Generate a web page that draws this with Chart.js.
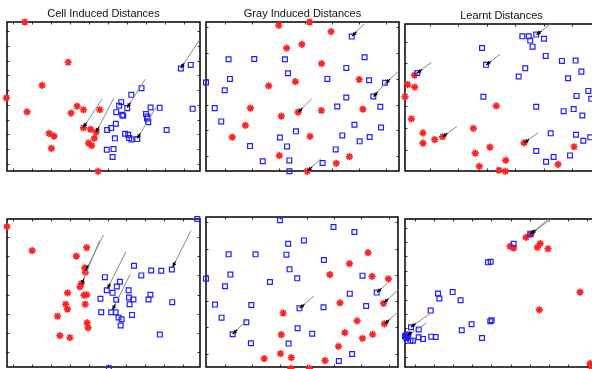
<!DOCTYPE html>
<html>
<head>
<meta charset="utf-8">
<script src="https://cdn.jsdelivr.net/npm/chart.js@4/dist/chart.umd.min.js"></script>
<style>
html,body{margin:0;padding:0;background:#fff;overflow:hidden;width:592px;height:369px;position:relative;}
.ttl{position:absolute;font:11px "Liberation Sans",Arial,Helvetica,sans-serif;color:#111;text-align:center;line-height:13px;white-space:nowrap;}
</style>
</head>
<body>
<script>
// panel titles (top row only)
const titles = ['Cell Induced Distances', 'Gray Induced Distances', 'Learnt Distances'];

// points as [x, y] in axis units (0..10 across each box)
const p1Red = [[0.92,10.0],[3.17,7.30],[1.82,5.74],[-0.03,4.91],[1.04,3.97],[3.63,4.35],[3.96,4.11],[4.81,4.11],[3.32,3.88],[2.18,2.52],[2.44,2.34],[2.30,1.52],[3.96,2.90],[4.33,2.79],[4.62,2.61],[4.52,2.19],[4.22,1.88],[4.39,1.70],[4.72,-0.02]];
const p1Blue = [[9.01,6.88],[9.52,7.12],[9.62,4.17],[6.97,5.56],[6.44,5.11],[5.92,4.62],[5.81,4.38],[6.23,4.22],[7.44,4.26],[7.91,4.24],[5.66,3.95],[5.97,3.77],[6.02,3.71],[7.20,3.82],[7.28,3.66],[7.25,3.53],[7.32,3.28],[5.64,3.17],[5.40,2.88],[5.19,2.75],[6.12,2.50],[6.28,2.43],[6.33,2.21],[6.45,2.12],[6.75,2.14],[5.59,2.19],[8.27,2.75],[5.52,1.47],[5.17,1.43],[5.47,0.94]];
const p1Arrows = [[9.97,8.79,9.01,6.90],[7.16,6.16,6.23,4.26],[4.93,4.84,3.96,2.92],[5.54,4.91,4.62,2.61],[7.72,4.26,6.75,2.19]];

const p2Red = [[3.77,9.78],[5.37,10.0],[6.48,9.35],[4.97,8.50],[4.18,8.24],[5.99,7.21],[7.94,6.14],[4.63,6.00],[3.25,5.71],[2.30,4.22],[4.77,3.95],[5.98,4.06],[8.13,4.15],[3.90,3.68],[2.04,3.06],[1.36,2.28],[5.39,2.32],[3.80,1.03],[7.43,0.96],[6.75,0.51],[5.25,-0.02]];
const p2Blue = [[7.55,9.02],[8.22,7.63],[1.17,7.50],[2.50,7.52],[4.09,7.50],[7.27,6.92],[4.25,6.56],[1.24,6.18],[6.29,6.18],[8.45,6.09],[9.27,5.92],[0,5.94],[0.97,5.42],[7.27,4.93],[8.67,5.00],[0.45,4.22],[6.80,4.33],[9.03,4.31],[0.79,3.33],[7.69,3.10],[9.07,2.92],[4.66,2.66],[7.06,2.39],[3.83,2.25],[8.48,2.28],[7.96,1.99],[2.28,1.67],[4.20,1.65],[6.72,1.45],[2.94,0.65],[4.32,0.71],[6.04,0.54],[4.32,-0.02]];
const p2Arrows = [[8.19,9.87,7.58,9.06],[10.0,6.74,9.31,5.89],[9.36,6.00,8.69,5.00],[5.48,4.84,4.78,3.95],[5.96,0.83,5.27,0.0]];

const p3Red = [[0.50,6.52],[0.14,5.88],[0.50,5.70],[0,5.05],[4.73,4.43],[0.33,3.55],[0.93,2.60],[3.54,2.90],[1.95,2.33],[1.54,2.13],[0.93,1.90],[6.17,1.92],[4.40,1.63],[8.76,1.65],[3.64,1.22],[5.22,0.72],[3.85,0.32],[7.93,0.45],[4.87,0.05],[5.20,-0.02]];
const p3Blue = [[6.08,9.16],[6.41,9.16],[6.80,9.28],[6.49,8.87],[7.20,9.00],[6.61,8.46],[3.99,8.37],[7.29,7.83],[8.13,7.49],[8.84,7.51],[4.20,7.22],[6.23,6.99],[9.14,6.76],[0.64,6.67],[5.89,6.43],[8.45,6.31],[9.50,5.45],[8.89,5.11],[9.65,4.91],[4.06,5.05],[6.80,4.37],[8.74,4.21],[8.22,4.07],[9.19,3.78],[7.55,2.56],[8.86,2.47],[9.60,2.29],[9.24,2.06],[6.80,1.36],[8.55,1.06],[7.70,0.95],[7.31,0.63]];
const p3Arrows = [[7.53,9.98,6.82,9.28],[4.94,7.96,4.21,7.22],[1.38,7.40,0.64,6.67],[2.69,3.03,1.95,2.33],[6.91,2.62,6.18,1.92]];

const p4Red = [[0,9.48],[1.30,7.86],[4.13,8.06],[3.59,7.49],[4.03,6.70],[4.06,6.39],[3.85,5.64],[3.78,5.42],[3.14,5.01],[3.99,4.85],[4.13,4.88],[3.04,4.24],[3.13,3.91],[4.05,4.24],[2.62,3.43],[4.15,2.98],[4.20,2.64],[2.74,2.12],[3.26,1.99]];
const p4Blue = [[9.86,10.0],[6.58,6.84],[7.47,6.52],[7.99,6.50],[8.54,6.59],[6.96,6.19],[5.07,6.07],[5.85,5.76],[5.69,5.44],[5.17,5.19],[5.47,5.01],[6.30,5.19],[7.43,4.88],[7.33,4.56],[4.84,4.61],[5.66,4.54],[6.32,4.70],[6.55,4.56],[6.35,4.24],[8.56,4.38],[4.88,3.70],[5.40,3.70],[5.63,3.70],[5.78,3.34],[5.94,3.23],[6.48,3.52],[5.89,2.80],[7.92,2.19],[5.28,-0.09]];
const p4Arrows = [[5.00,8.92,4.08,6.52],[4.79,8.53,3.87,5.60],[6.16,7.79,5.21,5.30],[6.39,6.28,5.47,3.88],[9.53,9.21,8.59,6.77]];

const p5Red = [[8.44,7.62],[7.47,6.89],[6.45,6.16],[8.65,6.04],[9.50,5.87],[6.98,4.27],[9.25,4.24],[4.02,3.60],[7.87,3.07],[9.29,2.87],[7.23,2.29],[8.68,2.18],[8.15,1.91],[3.92,2.16],[6.90,1.38],[3.88,0.89],[4.44,0.62],[3.03,0.56],[6.20,0.42],[4.42,-0.11],[5.39,-0.11]];
const p5Blue = [[3.85,9.78],[6.64,9.33],[7.73,9.00],[5.10,8.44],[4.28,8.22],[1.18,7.51],[2.58,7.51],[4.19,7.49],[6.14,7.13],[4.35,6.51],[1.27,6.16],[4.75,5.91],[8.15,6.09],[0,5.89],[3.33,5.67],[0.99,5.38],[7.49,4.89],[8.89,4.96],[0.47,4.16],[2.36,4.13],[8.34,4.07],[4.87,3.91],[6.12,3.98],[0.81,3.29],[2.10,2.98],[4.77,2.58],[5.53,2.22],[1.39,2.18],[2.34,1.58],[4.30,1.56],[7.61,0.87],[6.92,0.40]];
const p5Arrows = [[9.62,5.78,8.91,4.98],[10.03,5.16,9.27,4.29],[10.03,3.71,9.32,2.89],[5.62,4.73,4.89,3.93],[2.08,3.07,1.40,2.20]];

const p6Red = [[6.27,8.76],[6.53,8.96],[5.44,8.15],[5.63,8.04],[6.86,8.08],[7.01,8.33],[7.41,7.99],[9.07,5.06],[6.96,3.86],[9.59,0.23],[9.67,0.05]];
const p6Blue = [[6.49,9.01],[5.63,8.33],[4.30,7.07],[4.44,7.11],[1.71,4.97],[1.78,4.63],[2.47,5.06],[2.88,4.51],[1.33,3.81],[3.45,2.89],[4.42,3.09],[4.49,3.16],[2.94,2.48],[3.99,1.96],[0.31,2.69],[0.71,2.53],[0.71,2.01],[0.93,1.90],[1.36,2.05],[1.59,2.03],[0.28,1.78],[0.41,1.78],[0.05,2.14],[0.12,2.03],[0,2.08],[0.17,2.20],[0.08,1.95]];
const p6Arrows = [[7.55,9.98,6.56,9.03],[7.43,9.98,6.48,8.96],[1.30,3.61,0.31,2.71],[1.12,2.98,0.12,2.12]];

// tick marks: [first tick, step] for x and y of each panel
const p1Ticks = {x:[0.33,0.98], y:[0.47,0.99]};
const p2Ticks = {x:[0.98,1.39], y:[0.98,1.74]};
const p3Ticks = {x:[1.30,1.47], y:[1.45,1.47]};
const p4Ticks = {x:[0.31,0.98], y:[0.99,1.30]};
const p5Ticks = {x:[0.99,1.42], y:[0.89,1.75]};
const p6Ticks = {x:[0.52,0.99], y:[0.68,0.97]};

// layout of the axes boxes (page px)
const boxes = [
  {l:7,   t:22,  w:193, h:149},
  {l:206, t:22,  w:193, h:149},
  {l:405, t:24,  w:193, h:147},
  {l:7,   t:219, w:193, h:148},
  {l:206, t:217, w:192, h:150},
  {l:405, t:219, w:193, h:148}
];
const PAD = 10;

function framePlugin(ticks){
  return {id:'frame', beforeDatasetsDraw(chart){
    const {ctx, chartArea:a, scales:{x, y}} = chart;
    const tl = 2.5;
    ctx.save();
    ctx.strokeStyle = '#333'; ctx.lineWidth = 1;
    ctx.beginPath();
    for(let v = ticks.x[0]; v < 10; v += ticks.x[1]){
      const px = Math.round(x.getPixelForValue(v)) + 0.5;
      ctx.moveTo(px, a.bottom); ctx.lineTo(px, a.bottom - tl);
      ctx.moveTo(px, a.top); ctx.lineTo(px, a.top + tl);
    }
    for(let v = ticks.y[0]; v < 10; v += ticks.y[1]){
      const py = Math.round(y.getPixelForValue(v)) + 0.5;
      ctx.moveTo(a.left, py); ctx.lineTo(a.left + tl, py);
      ctx.moveTo(a.right, py); ctx.lineTo(a.right - tl, py);
    }
    ctx.stroke();
    ctx.lineWidth = 1.5; ctx.strokeStyle = '#000';
    ctx.strokeRect(a.left, a.top, a.right - a.left, a.bottom - a.top);
    ctx.restore();
  }};
}

function arrowPlugin(list){
  return {id:'arrows', afterDatasetsDraw(chart){
    const {ctx, scales:{x, y}} = chart;
    ctx.save();
    for(const [x1, y1, x2, y2] of list){
      const ax = x.getPixelForValue(x1), ay = y.getPixelForValue(y1);
      const bx = x.getPixelForValue(x2), by = y.getPixelForValue(y2);
      const ang = Math.atan2(by - ay, bx - ax), c = Math.cos(ang), s = Math.sin(ang);
      ctx.strokeStyle = '#8a8a8a'; ctx.lineWidth = 1;
      ctx.beginPath(); ctx.moveTo(ax, ay); ctx.lineTo(bx, by); ctx.stroke();
      ctx.strokeStyle = '#000'; ctx.lineWidth = 1.2;
      ctx.beginPath(); ctx.moveTo(bx - 6*c, by - 6*s); ctx.lineTo(bx, by); ctx.stroke();
      ctx.fillStyle = '#000';
      ctx.beginPath();
      ctx.moveTo(bx, by);
      ctx.lineTo(bx - 4*c - 2*s, by - 4*s + 2*c);
      ctx.lineTo(bx - 4*c + 2*s, by - 4*s - 2*c);
      ctx.closePath(); ctx.fill();
    }
    ctx.restore();
  }};
}

const toXY = (arr) => arr.map(([x, y]) => ({x, y}));

function makePanel(i, red, blue, arrows, ticks){
  const b = boxes[i];
  const cv = document.createElement('canvas');
  cv.width = b.w + 2*PAD; cv.height = b.h + 2*PAD;
  cv.style.cssText = `position:absolute;left:${b.l - PAD}px;top:${b.t - PAD}px;width:${b.w + 2*PAD}px;height:${b.h + 2*PAD}px;`;
  document.body.appendChild(cv);
  new Chart(cv, {
    type: 'scatter',
    data: {datasets: [
      {data: toXY(blue), pointStyle: 'rect', radius: 3.4, borderColor: '#1f1fff',
       backgroundColor: 'rgba(0,0,0,0)', borderWidth: 1.2, clip: false},
      {data: toXY(red), pointStyle: 'star', radius: 3.6, borderColor: '#ff2424',
       backgroundColor: '#ff2424', borderWidth: 1.7, clip: false}
    ]},
    options: {
      responsive: false, animation: false, devicePixelRatio: 1, events: [],
      layout: {padding: PAD},
      plugins: {legend: {display: false}, tooltip: {enabled: false}},
      scales: {
        x: {type: 'linear', min: 0, max: 10, display: false},
        y: {type: 'linear', min: 0, max: 10, display: false}
      }
    },
    plugins: [framePlugin(ticks), arrowPlugin(arrows)]
  });
  if(i < titles.length){
    const d = document.createElement('div');
    d.className = 'ttl';
    d.textContent = titles[i];
    d.style.left = b.l + 'px'; d.style.width = b.w + 'px';
    d.style.top = (b.t - 15) + 'px';
    document.body.appendChild(d);
  }
}

makePanel(0, p1Red, p1Blue, p1Arrows, p1Ticks);
makePanel(1, p2Red, p2Blue, p2Arrows, p2Ticks);
makePanel(2, p3Red, p3Blue, p3Arrows, p3Ticks);
makePanel(3, p4Red, p4Blue, p4Arrows, p4Ticks);
makePanel(4, p5Red, p5Blue, p5Arrows, p5Ticks);
makePanel(5, p6Red, p6Blue, p6Arrows, p6Ticks);
</script>
</body>
</html>
